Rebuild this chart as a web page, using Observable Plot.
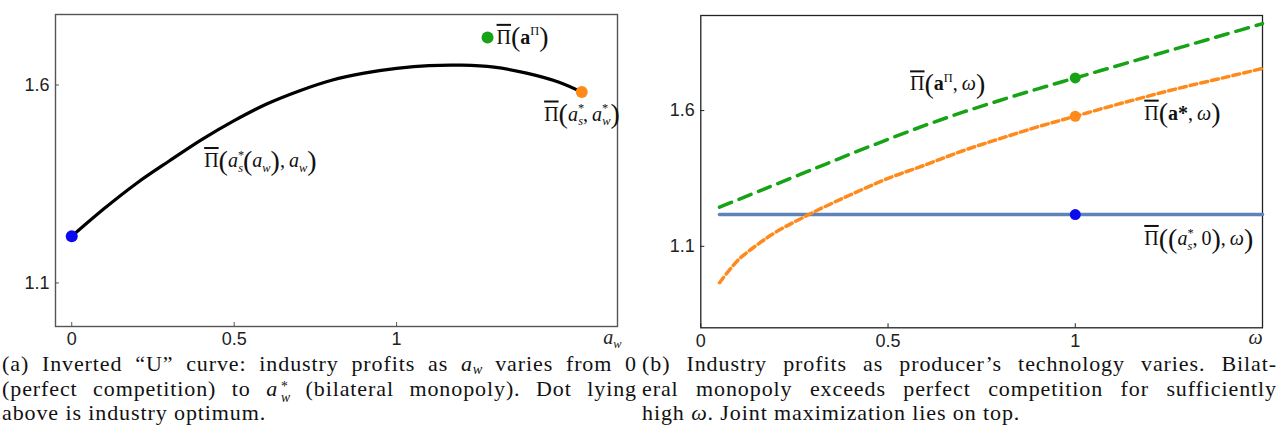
<!DOCTYPE html>
<html>
<head>
<meta charset="utf-8">
<script src="https://cdn.jsdelivr.net/npm/d3@7"></script>
<script src="https://cdn.jsdelivr.net/npm/@observablehq/plot@0.6"></script>
<style>
  html, body { margin: 0; padding: 0; background: #fff; }
  body { width: 1278px; height: 441px; overflow: hidden; }
  #wrap { display: flex; width: 1278px; }
  .panel { width: 639px; }
  .panel svg { display: block; }
  .cap { font-family: "Liberation Serif", serif; font-size: 22px; line-height: 24.5px; color: #111;
         width: 635px; letter-spacing: 0.9px; margin-top: -8px; }
  #pa .cap { margin-left: 2px; }
  #pb .cap { margin-left: 3px; }
  .cap .l { text-align: justify; text-align-last: justify; white-space: nowrap; height: 24.5px; }
  .cap .last { text-align: left; white-space: nowrap; }
  .cap sub { font-size: 0.65em; line-height: 0; letter-spacing: 0; vertical-align: -0.18em; }
  .cap .stk { display: inline-flex; flex-direction: column; font-size: 0.62em; line-height: 0.8em;
              vertical-align: 0.35em; letter-spacing: 0; margin-left: 0.2em; }
</style>
</head>
<body>
<div id="wrap">
  <div class="panel" id="pa"></div>
  <div class="panel" id="pb"></div>
</div>
<script>
// ---------------- data: panel (a) ----------------
const awGrid    = [0, 0.1, 0.2, 0.3, 0.4, 0.5, 0.6, 0.7, 0.8, 0.9, 1.0, 1.1, 1.2, 1.3, 1.4, 1.5, 1.57];
const profitAw  = [1.218, 1.288, 1.352, 1.408, 1.462, 1.510, 1.552, 1.585, 1.612, 1.630, 1.642, 1.649, 1.650, 1.645, 1.630, 1.607, 1.582];
const aDotNames = ["competition", "optimum", "bilateral"];
const aDotX     = [0, 1.28, 1.57];
const aDotY     = [1.218, 1.720, 1.582];
const aXTicks   = [0, 0.5, 1];
const aYTicks   = [1.1, 1.6];

// ---------------- data: panel (b) ----------------
const omegaGrid        = [0.05, 0.1, 0.15, 0.2, 0.3, 0.4, 0.5, 0.6, 0.7, 0.8, 0.9, 1.0, 1.1, 1.2, 1.3, 1.4, 1.5];
const profitJoint      = [1.244, 1.272, 1.300, 1.328, 1.384, 1.440, 1.494, 1.546, 1.594, 1.638, 1.680, 1.720, 1.760, 1.800, 1.840, 1.880, 1.920];
const profitBilateral  = [0.966, 1.050, 1.105, 1.152, 1.225, 1.290, 1.350, 1.400, 1.452, 1.497, 1.540, 1.579, 1.618, 1.655, 1.690, 1.722, 1.755];
const competitiveOmega = [0.05, 1.5];
const profitCompetitive = [1.217, 1.217];
const bDotOmega = 1;
const bDotNames = ["joint", "bilateral", "competitive"];
const bDotY     = [1.720, 1.579, 1.217];
const bXTicks   = [0, 0.5, 1];
const bYTicks   = [1.1, 1.6];

// ---------------- label keys ----------------
const L_A_OPT   = "Π̄(a^Π)";
const L_A_BIL   = "Π̄(a*s, a*w)";
const L_A_CURVE = "Π̄(a*s(aw), aw)";
const L_B_OPT   = "Π̄(a^Π, ω)";
const L_B_BIL   = "Π̄(a*, ω)";
const L_B_COMP  = "Π̄((a*s, 0), ω)";
const L_AW      = "aw";
const L_OMEGA   = "ω";

// rich text specs: [text, flags]  o=overline b=bold i=italic ^=sup _=sub <=stack under previous sup P=big paren
const RICH = {
  [L_A_OPT]:   [["Π","o"],["(","P"],["a","b"],["Π","^"],[")","P"]],
  [L_A_BIL]:   [["Π","o"],["(","P"],["a","i"],["*","^"],["s","_<i"],[", ",""],["a","i"],["*","^"],["w","_<i"],[")","P"]],
  [L_A_CURVE]: [["Π","o"],["(","P"],["a","i"],["*","^"],["s","_<i"],["(","P"],["a","i"],["w","_i"],[")","P"],[", ",""],["a","i"],["w","_i"],[")","P"]],
  [L_B_OPT]:   [["Π","o"],["(","P"],["a","b"],["Π","^"],[", ",""],["ω","i"],[")","P"]],
  [L_B_BIL]:   [["Π","o"],["(","P"],["a*","b"],[", ",""],["ω","i"],[")","P"]],
  [L_B_COMP]:  [["Π","o"],["(","P"],["(","P"],["a","i"],["*","^"],["s","_<i"],[", ",""],["0",""],[")","P"],[", ",""],["ω","i"],[")","P"]],
  [L_AW]:      [["a","i"],["w","_i"]],
  [L_OMEGA]:   [["ω","i"]]
};

const svgNS = "http://www.w3.org/2000/svg";
function richify(svg) {
  svg.querySelectorAll("text").forEach(t => {
    const spec = RICH[t.textContent];
    if (!spec) return;
    const fs = parseFloat(t.getAttribute("font-size") || getComputedStyle(t).fontSize) || 20;
    t.textContent = "";
    let cur = 0;
    for (const [s, f] of spec) {
      const ts = document.createElementNS(svgNS, "tspan");
      let size = fs, shift = 0, dx = 0;
      if (f.includes("^")) { size = fs * 0.62; shift = -fs * 0.42; }
      if (f.includes("_")) { size = fs * 0.62; shift = fs * 0.24; }
      if (f.includes("<")) dx = -fs * 0.3;
      if (f.includes("P")) { size = fs * 1.4; shift = fs * 0.13; }
      ts.setAttribute("font-size", size.toFixed(2));
      if (shift !== cur) ts.setAttribute("dy", (shift - cur).toFixed(2));
      cur = shift;
      if (dx) ts.setAttribute("dx", dx.toFixed(2));
      if (f.includes("b")) ts.setAttribute("font-weight", "bold");
      if (f.includes("i")) ts.setAttribute("font-style", "italic");
      if (f.includes("o")) ts.setAttribute("text-decoration", "overline");
      ts.textContent = s.replace(" ", "\u2009");
      t.appendChild(ts);
    }
  });
}

const serif = "Liberation Serif";
const W = 639, H = 360;

// ---------------- panel (a) ----------------
const aCurve = awGrid.map((x, i) => ({x, y: profitAw[i]}));
const aDots = aDotX.map((x, i) => ({name: aDotNames[i], x, y: aDotY[i]}));
const aM = {l: 55, r: 22, t: 14, b: 34};
const svgA = Plot.plot({
  width: W, height: H,
  marginLeft: aM.l, marginRight: aM.r, marginTop: aM.t, marginBottom: aM.b,
  x: {domain: [-0.05, 1.68]},
  y: {domain: [0.99, 1.778]},
  style: {fontFamily: "Liberation Sans", background: "#fff", color: "#222"},
  marks: [
    Plot.frame({stroke: "#555", strokeWidth: 1.4}),
    Plot.ruleX(aXTicks, {x: d => d, insetTop: H - aM.t - aM.b - 4, stroke: "#555"}),
    Plot.ruleY(aYTicks, {y: d => d, insetRight: W - aM.l - aM.r - 4, stroke: "#555"}),
    Plot.axisX({ticks: aXTicks, tickSize: 0, tickPadding: 6, label: null, fontSize: 18, tickFormat: d => String(d)}),
    Plot.axisY({ticks: aYTicks, tickSize: 0, tickPadding: 6, label: null, fontSize: 18, tickFormat: d => d.toFixed(1)}),
    Plot.line(aCurve, {x: "x", y: "y", stroke: "#000", strokeWidth: 3.2, curve: "catmull-rom"}),
    Plot.dot([aDots[0]], {x: "x", y: "y", r: 6, fill: "#0a0af0"}),
    Plot.dot([aDots[1]], {x: "x", y: "y", r: 6, fill: "#16a316"}),
    Plot.dot([aDots[2]], {x: "x", y: "y", r: 6, fill: "#ff8a1c"}),
    Plot.text([aDots[1]], {x: "x", y: "y", text: () => L_A_OPT, textAnchor: "start", dx: 9, dy: 0, fontFamily: serif, fontSize: 20, fill: "#111"}),
    Plot.text([aDots[2]], {x: "x", y: "y", text: () => L_A_BIL, textAnchor: "end", dx: 38, dy: 22, fontFamily: serif, fontSize: 20, fill: "#111"}),
    Plot.text([aCurve[5]], {x: "x", y: "y", text: () => L_A_CURVE, textAnchor: "start", dx: -30, dy: 40, fontFamily: serif, fontSize: 20, fill: "#111"}),
    Plot.text([L_AW], {frameAnchor: "bottom-right", text: d => d, textAnchor: "end", dx: 4, dy: 17, fontFamily: serif, fontSize: 25, fill: "#222"})
  ]
});
richify(svgA);
document.getElementById("pa").append(svgA);

// ---------------- panel (b) ----------------
const bJoint = omegaGrid.map((x, i) => ({x, y: profitJoint[i]}));
const bBil = omegaGrid.map((x, i) => ({x, y: profitBilateral[i]}));
const bComp = competitiveOmega.map((x, i) => ({x, y: profitCompetitive[i]}));
const bDots = bDotY.map((y, i) => ({name: bDotNames[i], x: bDotOmega, y}));
const bM = {l: 61.3, r: 16, t: 15, b: 32.7};
const svgB = Plot.plot({
  width: W, height: H,
  marginLeft: bM.l, marginRight: bM.r, marginTop: bM.t, marginBottom: bM.b,
  x: {domain: [0, 1.5]},
  y: {domain: [0.80, 1.95]},
  style: {fontFamily: "Liberation Sans", background: "#fff", color: "#222"},
  marks: [
    Plot.frame({stroke: "#222", strokeWidth: 1.3}),
    Plot.ruleX(bXTicks, {x: d => d, insetTop: H - bM.t - bM.b - 4, stroke: "#222"}),
    Plot.ruleY(bYTicks, {y: d => d, insetRight: W - bM.l - bM.r - 4, stroke: "#222"}),
    Plot.axisX({ticks: bXTicks, tickSize: 0, tickPadding: 6, label: null, fontSize: 18, tickFormat: d => String(d)}),
    Plot.axisY({ticks: bYTicks, tickSize: 0, tickPadding: 6, label: null, fontSize: 18, tickFormat: d => d.toFixed(1)}),
    Plot.line(bComp, {x: "x", y: "y", stroke: "#5f82b8", strokeWidth: 3.6}),
    Plot.line(bBil, {x: "x", y: "y", stroke: "#ff8a1c", strokeWidth: 3.5, strokeDasharray: "7,4", curve: "catmull-rom"}),
    Plot.line(bJoint, {x: "x", y: "y", stroke: "#16a316", strokeWidth: 3.5, strokeDasharray: "13,8", curve: "catmull-rom"}),
    Plot.dot([bDots[0]], {x: "x", y: "y", r: 5.5, fill: "#16a316"}),
    Plot.dot([bDots[1]], {x: "x", y: "y", r: 5.5, fill: "#ff8a1c"}),
    Plot.dot([bDots[2]], {x: "x", y: "y", r: 5.5, fill: "#0a0af0"}),
    Plot.text([bDots[0]], {x: "x", y: "y", text: () => L_B_OPT, textAnchor: "end", dx: -90, dy: 6, fontFamily: serif, fontSize: 20, fill: "#111"}),
    Plot.text([bDots[1]], {x: "x", y: "y", text: () => L_B_BIL, textAnchor: "start", dx: 69, dy: -3, fontFamily: serif, fontSize: 20, fill: "#111"}),
    Plot.text([bDots[2]], {x: "x", y: "y", text: () => L_B_COMP, textAnchor: "start", dx: 69, dy: 24, fontFamily: serif, fontSize: 20, fill: "#111"}),
    Plot.text([L_OMEGA], {frameAnchor: "bottom-right", text: d => d, textAnchor: "end", dx: 0, dy: 16, fontFamily: serif, fontSize: 27, fill: "#222"})
  ]
});
richify(svgB);
document.getElementById("pb").append(svgB);

// ---------------- captions ----------------
const capA = document.createElement("div");
capA.className = "cap";
capA.innerHTML =
  '<div class="l">(a) Inverted “U” curve: industry profits as <i>a</i><sub><i>w</i></sub> varies from 0</div>' +
  '<div class="l">(perfect competition) to <i>a</i><span class="stk"><span>*</span><span><i>w</i></span></span> (bilateral monopoly). Dot lying</div>' +
  '<div class="last">above is industry optimum.</div>';
document.getElementById("pa").append(capA);

const capB = document.createElement("div");
capB.className = "cap";
capB.innerHTML =
  '<div class="l">(b) Industry profits as producer’s technology varies. Bilat-</div>' +
  '<div class="l">eral monopoly exceeds perfect competition for sufficiently</div>' +
  '<div class="last">high <i>ω</i>. Joint maximization lies on top.</div>';
document.getElementById("pb").append(capB);
</script>
</body>
</html>
